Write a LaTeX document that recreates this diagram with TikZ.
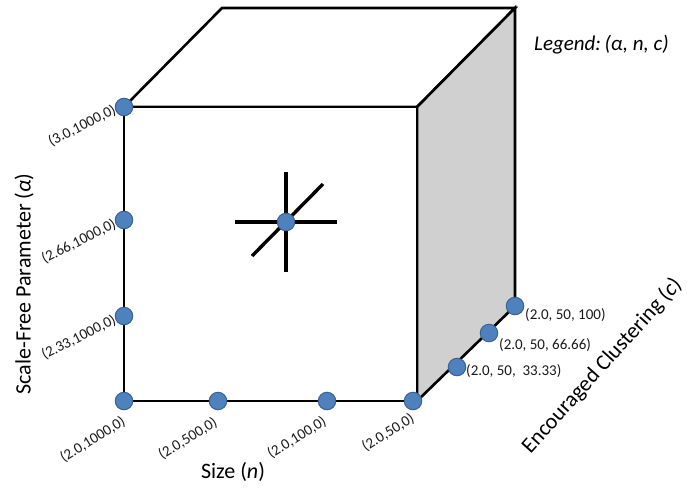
\documentclass[tikz,border=0pt]{standalone}
\usepackage{fontspec}
\setmainfont{Carlito}
\usetikzlibrary{calc}
\definecolor{dotfill}{HTML}{4F81BD}
\definecolor{dotedge}{HTML}{3A6393}
\definecolor{sideface}{HTML}{D0D0D0}
\tikzset{
  edge/.style={line width=2.6pt, line join=miter},
  dot/.style={circle, fill=dotfill, draw=dotedge, line width=1pt, minimum size=17.5pt, inner sep=0pt},
  tup/.style={font=\fontsize{15}{17}\selectfont, inner sep=0pt, text=black!90},
  axislab/.style={font=\fontsize{22}{25}\selectfont, inner sep=0pt},
  starline/.style={line width=3.4pt},
}
\begin{document}
\begin{tikzpicture}[x=1pt,y=-1pt]
\useasboundingbox (0,0) rectangle (687,490);
% cube corners
\coordinate (ftl) at (124,107);
\coordinate (ftr) at (417,107);
\coordinate (fbl) at (124,401);
\coordinate (fbr) at (417,401);
\coordinate (btl) at (222,8);
\coordinate (btr) at (515,8);
\coordinate (bbr) at (515,306);
% faces
\filldraw[edge, fill=white] (ftl) -- (btl) -- (btr) -- (ftr) -- cycle;
\filldraw[edge, fill=sideface] (ftr) -- (btr) -- (bbr) -- (fbr) -- cycle;
\filldraw[edge, fill=white] (ftl) -- (ftr) -- (fbr) -- (fbl) -- cycle;
% star
\coordinate (sl) at (235,222);
\coordinate (sr) at (337,222);
\coordinate (st) at (286,172);
\coordinate (sb) at (286,272);
\coordinate (sd1) at (252,256);
\coordinate (sd2) at (323,184);
\draw[starline] (sl) -- (sr);
\draw[starline] (st) -- (sb);
\draw[starline] (sd1) -- (sd2);
\node[dot] (center) at (286,222) {};
% dots
\node[dot] (a30) at (124,107) {};
\node[dot] (a266) at (124,220) {};
\node[dot] (a233) at (124,316) {};
\node[dot] (a20) at (124,401) {};
\node[dot] (n500) at (218,401) {};
\node[dot] (n100) at (327,401) {};
\node[dot] (n50) at (413,401) {};
\node[dot] (c33) at (457,367) {};
\node[dot] (c66) at (489,333) {};
\node[dot] (c100) at (515,306) {};
% left labels
\node[tup, rotate=27, anchor=east] (la30) at (115,109) {(3.0,1000,0)};
\node[tup, rotate=27, anchor=east] (la266) at (115,223) {(2.66,1000,0)};
\node[tup, rotate=27, anchor=east] (la233) at (115,319) {(2.33,1000,0)};
% bottom labels
\node[tup, rotate=32, anchor=east] (lb1000) at (124,420) {(2.0,1000,0)};
\node[tup, rotate=32, anchor=east] (lb500) at (216,421) {(2.0,500,0)};
\node[tup, rotate=32, anchor=east] (lb100) at (325,420) {(2.0,100,0)};
\node[tup, rotate=32, anchor=east] (lb50) at (413,417) {(2.0,50,0)};
% right labels
\node[tup, anchor=west] (lc33) at (466,371) {(2.0, 50,\ \ 33.33)};
\node[tup, anchor=west] (lc66) at (499,345) {(2.0, 50, 66.66)};
\node[tup, anchor=west] (lc100) at (525,315) {(2.0, 50, 100)};
% axis labels
\node[axislab, rotate=90] (alpha) at (24,284) {Scale-Free Parameter (\textit{α})};
\node[axislab] (size) at (233,472) {Size (\textit{n})};
\node[axislab, rotate=48] (clust) at (602,366) {Encouraged Clustering (\textit{c})};
\node[axislab, font=\fontsize{21}{24}\selectfont\itshape, anchor=west] (legend) at (534,45) {Legend:\,(α, n, c)};
\end{tikzpicture}
\end{document}
